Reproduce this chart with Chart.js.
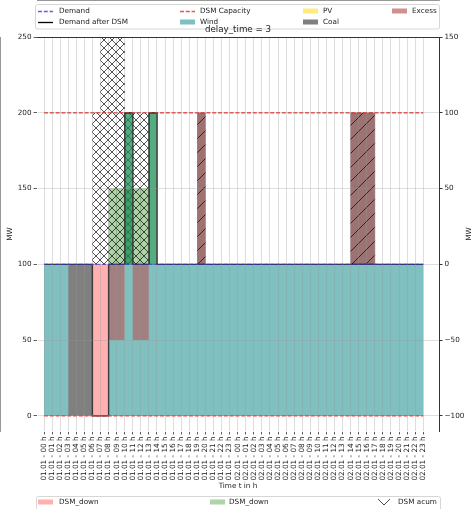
<!DOCTYPE html>
<html>
<head>
<meta charset="utf-8">
<script src="https://cdn.jsdelivr.net/npm/chart.js@4/dist/chart.umd.min.js"></script>
<style>
  html, body { margin: 0; padding: 0; background: #fff; }
  #wrap { width: 474px; height: 509px; }
</style>
</head>
<body>
<div id="wrap"><canvas id="c" width="474" height="509"></canvas></div>
<script>
// ---- hourly time axis (48 h) ----
const hourLabels = [
  '01.01 - 00 h','01.01 - 01 h','01.01 - 02 h','01.01 - 03 h','01.01 - 04 h','01.01 - 05 h',
  '01.01 - 06 h','01.01 - 07 h','01.01 - 08 h','01.01 - 09 h','01.01 - 10 h','01.01 - 11 h',
  '01.01 - 12 h','01.01 - 13 h','01.01 - 14 h','01.01 - 15 h','01.01 - 16 h','01.01 - 17 h',
  '01.01 - 18 h','01.01 - 19 h','01.01 - 20 h','01.01 - 21 h','01.01 - 22 h','01.01 - 23 h',
  '02.01 - 00 h','02.01 - 01 h','02.01 - 02 h','02.01 - 03 h','02.01 - 04 h','02.01 - 05 h',
  '02.01 - 06 h','02.01 - 07 h','02.01 - 08 h','02.01 - 09 h','02.01 - 10 h','02.01 - 11 h',
  '02.01 - 12 h','02.01 - 13 h','02.01 - 14 h','02.01 - 15 h','02.01 - 16 h','02.01 - 17 h',
  '02.01 - 18 h','02.01 - 19 h','02.01 - 20 h','02.01 - 21 h','02.01 - 22 h','02.01 - 23 h'
];

// ---- series in MW, one value per hour ----
const demand = [
  100,100,100,100,100,100,100,100,100,100,100,100,100,100,100,100,100,100,100,100,100,100,100,100,
  100,100,100,100,100,100,100,100,100,100,100,100,100,100,100,100,100,100,100,100,100,100,100,100
];
const demandAfterDSM = [
  100,100,100,100,100,100,  0,  0,100,100,200,100,100,200,100,100,100,100,100,100,100,100,100,100,
  100,100,100,100,100,100,100,100,100,100,100,100,100,100,100,100,100,100,100,100,100,100,100,100
];
const wind = [
  100,100,100,  0,  0,  0,  0,  0, 50, 50,100, 50, 50,100,100,100,100,100,100,100,100,100,100,100,
  100,100,100,100,100,100,100,100,100,100,100,100,100,100,100,100,100,100,100,100,100,100,100,100
];
const coal = [
    0,  0,  0,100,100,100,  0,  0,  0,  0,  0,  0,  0,  0,  0,  0,  0,  0,  0,  0,  0,  0,  0,  0,
    0,  0,  0,  0,  0,  0,  0,  0,  0,  0,  0,  0,  0,  0,  0,  0,  0,  0,  0,  0,  0,  0,  0,  0
];
const pv = [
    0,  0,  0,  0,  0,  0,  0,  0,  0,  0,  0,  0,  0,  0,  0,  0,  0,  0,  0,  0,  0,  0,  0,  0,
    0,  0,  0,  0,  0,  0,  0,  0,  0,  0,  0,  0,  0,  0,  0,  0,  0,  0,  0,  0,  0,  0,  0,  0
];
const excess = [
    0,  0,  0,  0,  0,  0,  0,  0, 50, 50,  0, 50, 50,  0,  0,  0,  0,  0,  0,  0,  0,  0,  0,  0,
    0,  0,  0,  0,  0,  0,  0,  0,  0,  0,  0,  0,  0,  0,  0,  0,  0,  0,  0,  0,  0,  0,  0,  0
];
const excessAboveDemand = [
    0,  0,  0,  0,  0,  0,  0,  0,  0,  0,  0,  0,  0,  0,  0,  0,  0,  0,  0,100,  0,  0,  0,  0,
    0,  0,  0,  0,  0,  0,  0,  0,  0,  0,  0,  0,  0,  0,100,100,100,  0,  0,  0,  0,  0,  0,  0
];
const dsmDown = [
    0,  0,  0,  0,  0,  0,100,100,  0,  0,  0,  0,  0,  0,  0,  0,  0,  0,  0,  0,  0,  0,  0,  0,
    0,  0,  0,  0,  0,  0,  0,  0,  0,  0,  0,  0,  0,  0,  0,  0,  0,  0,  0,  0,  0,  0,  0,  0
];
const dsmUp = [
    0,  0,  0,  0,  0,  0,  0,  0, 50, 50, 50, 50, 50,  0,  0,  0,  0,  0,  0,  0,  0,  0,  0,  0,
    0,  0,  0,  0,  0,  0,  0,  0,  0,  0,  0,  0,  0,  0,  0,  0,  0,  0,  0,  0,  0,  0,  0,  0
];
const dsmUpPeak = [
    0,  0,  0,  0,  0,  0,  0,  0,  0,  0,100,  0,  0,100,  0,  0,  0,  0,  0,  0,  0,  0,  0,  0,
    0,  0,  0,  0,  0,  0,  0,  0,  0,  0,  0,  0,  0,  0,  0,  0,  0,  0,  0,  0,  0,  0,  0,  0
];
const dsmAcum = [
    0,  0,  0,  0,  0,  0,100,200,200,200,100,100,100,  0,  0,  0,  0,  0,  0,  0,  0,  0,  0,  0,
    0,  0,  0,  0,  0,  0,  0,  0,  0,  0,  0,  0,  0,  0,  0,  0,  0,  0,  0,  0,  0,  0,  0,  0
];
const dsmCapacity = [
  100,100,100,100,100,100,100,100,100,100,100,100,100,100,100,100,100,100,100,100,100,100,100,100,
  100,100,100,100,100,100,100,100,100,100,100,100,100,100,100,100,100,100,100,100,100,100,100,100
];

// axis tick values
const leftTicks = [0, 50, 100, 150, 200, 250];
const rightTicks = [-100, -50, 0, 50, 100, 150];

const FONT = 'DejaVu Sans';
Chart.defaults.font.family = FONT;
Chart.defaults.font.size = 7.25;
Chart.defaults.color = '#222';

const canvas = document.getElementById('c');
const cctx = canvas.getContext('2d');

// hatch fills: '/' diagonal lines, optionally crossed ('x')
function makeHatch(period, bg, lineColor, lineWidth, cross) {
  const t = document.createElement('canvas');
  t.width = period; t.height = period;
  const g = t.getContext('2d');
  if (bg) { g.fillStyle = bg; g.fillRect(0, 0, period, period); }
  g.strokeStyle = lineColor; g.lineWidth = lineWidth;
  g.beginPath();
  for (const o of [-period, 0, period]) {
    g.moveTo(o - 1, period + 1); g.lineTo(o + period + 1, -1);
    if (cross) { g.moveTo(o - 1, -1); g.lineTo(o + period + 1, period + 1); }
  }
  g.stroke();
  return cctx.createPattern(t, 'repeat');
}
const crossHatch = makeHatch(8, null, 'rgba(0,0,0,0.75)', 0.9, true);
const excessHatch = makeHatch(14, '#9c7272', 'rgba(35,20,20,0.85)', 1, false);

// helpers turning hourly arrays into chart points
const stepPoints = (vals) => vals.map((v, i) => ({ x: i, y: v }));
const cumulative = (...series) => series[0].map((_, i) => series.reduce((s, a) => s + a[i], 0));
const barsAbove = (vals, base) => vals.map((v, i) => v ? { x: i + 0.5, y: [base[i], base[i] + v] } : null).filter(Boolean);
const barsBelow = (vals, base) => vals.map((v, i) => v ? { x: i + 0.5, y: [base[i] - v, base[i]] } : null).filter(Boolean);

const windTop = wind;
const coalTop = cumulative(wind, coal);
const pvTop = cumulative(wind, coal, pv);
const excessTop = cumulative(wind, coal, pv, excess);

function areaDataset(label, vals, color, order) {
  return {
    type: 'line', label, data: stepPoints(vals), stepped: 'before',
    fill: 'origin', backgroundColor: color, borderColor: 'rgba(0,0,0,0)', borderWidth: 0,
    pointRadius: 0, order, yAxisID: 'y'
  };
}
function barDataset(label, data, color, order) {
  return {
    type: 'bar', label, data, backgroundColor: color, borderWidth: 0,
    grouped: false, barPercentage: 1, categoryPercentage: 1, order, yAxisID: 'y'
  };
}
function lineDataset(label, vals, color, dash, width, order, axis) {
  return {
    type: 'line', label, data: stepPoints(vals), stepped: 'before', fill: false,
    borderColor: color, borderWidth: width, borderDash: dash, pointRadius: 0,
    order, yAxisID: axis
  };
}

// legends, title, axis titles and top spine
const decorations = {
  id: 'decorations',
  afterDraw(chart) {
    const ctx = chart.ctx;
    const a = chart.chartArea;
    ctx.save();
    // top spine
    ctx.strokeStyle = '#333'; ctx.lineWidth = 1;
    ctx.beginPath(); ctx.moveTo(a.left, Math.round(a.top) + 0.5); ctx.lineTo(a.right, Math.round(a.top) + 0.5); ctx.stroke();

    const box = (x, y, w, h) => {
      ctx.beginPath();
      ctx.roundRect(x, y, w, h, 2);
      ctx.fillStyle = 'rgba(255,255,255,0.85)'; ctx.fill();
      ctx.strokeStyle = '#d6d6d6'; ctx.lineWidth = 1; ctx.stroke();
    };
    const text = (s, x, y) => {
      ctx.fillStyle = '#222'; ctx.font = '7.25px "' + FONT + '"';
      ctx.textAlign = 'left'; ctx.textBaseline = 'middle';
      ctx.fillText(s, x, y);
    };
    const lineHandle = (x, y, color, dash) => {
      ctx.strokeStyle = color; ctx.lineWidth = 1.3; ctx.setLineDash(dash);
      ctx.beginPath(); ctx.moveTo(x, y + 0.5); ctx.lineTo(x + 15, y + 0.5); ctx.stroke();
      ctx.setLineDash([]);
    };
    const patch = (x, y, color) => { ctx.fillStyle = color; ctx.fillRect(x, y - 2.5, 15, 5); };

    // upper legend
    box(35.5, 4.5, 404, 24.5);
    const r1 = 11, r2 = 22;
    lineHandle(38, r1, 'rgba(40,40,255,0.75)', [4, 1.8]); text('Demand', 59, r1);
    lineHandle(38, r2, '#000', []); text('Demand after DSM', 59, r2);
    lineHandle(180, r1, 'rgba(255,30,30,0.8)', [4, 1.8]); text('DSM Capacity', 200, r1);
    patch(180, r2, '#80c0c0'); text('Wind', 200, r2);
    patch(303, r1, '#ffeb80'); text('PV', 323, r1);
    patch(303, r2, '#808080'); text('Coal', 323, r2);
    patch(392, r1, '#d09090'); text('Excess', 412, r1);

    // chart title
    ctx.fillStyle = '#222'; ctx.font = '8.7px "' + FONT + '"';
    ctx.textAlign = 'center'; ctx.textBaseline = 'middle';
    ctx.fillText('delay_time = 3', (a.left + a.right) / 2, 30);

    // axis titles
    ctx.font = '7.25px "' + FONT + '"';
    ctx.fillText('Time t in h', (a.left + a.right) / 2, 486);
    const midY = (a.top + a.bottom) / 2;
    for (const x of [10, 469]) {
      ctx.save(); ctx.translate(x, midY); ctx.rotate(-Math.PI / 2);
      ctx.fillText('MW', 0, 0); ctx.restore();
    }

    // lower legend
    box(36.5, 496.5, 404, 20);
    const r3 = 502;
    patch(38, r3, '#ffb1b1'); text('DSM_down', 59, r3);
    patch(210, r3, '#aed4a8'); text('DSM_down', 229, r3);
    ctx.strokeStyle = 'rgba(0,0,0,0.8)'; ctx.lineWidth = 0.9;
    ctx.beginPath(); ctx.moveTo(378, 499); ctx.lineTo(384, 505); ctx.lineTo(390, 499); ctx.stroke();
    text('DSM acum', 398, r3);
    ctx.restore();
  }
};

new Chart(canvas, {
  type: 'line',
  data: {
    datasets: [
      // generation stack (filled steps), drawn from top of stack downwards
      areaDataset('Excess', excessTop, '#a27f80', 23),
      areaDataset('PV', pvTop, '#ffeb80', 22),
      areaDataset('Coal', coalTop, '#808080', 21),
      areaDataset('Wind', windTop, '#80c0c0', 20),
      // DSM and excess bars relative to demand
      barDataset('DSM_down', barsBelow(dsmDown, demand), '#ffb1b1', 15),
      barDataset('DSM_up', barsAbove(dsmUp, demand), 'rgba(40,140,20,0.38)', 14),
      barDataset('DSM acum', barsAbove(dsmAcum, demand), crossHatch, 13),
      barDataset('DSM_up peak', barsAbove(dsmUpPeak, demand), 'rgba(20,140,80,0.72)', 12),
      barDataset('Excess above demand', barsAbove(excessAboveDemand, demand), excessHatch, 11),
      // lines
      lineDataset('Demand after DSM', demandAfterDSM, 'rgba(0,0,0,0.9)', [], 1.3, 6, 'y'),
      lineDataset('Demand', demand, 'rgba(0,0,255,0.6)', [4, 1.8], 1.3, 5, 'y'),
      lineDataset('DSM Capacity', dsmCapacity, 'rgba(255,0,0,0.75)', [4, 1.8], 1.3, 4, 'y2'),
      lineDataset('DSM Capacity (down)', dsmCapacity.map(v => -v), 'rgba(255,0,0,0.75)', [4, 1.8], 1.3, 4, 'y2')
    ]
  },
  options: {
    responsive: false,
    animation: false,
    events: [],
    devicePixelRatio: 1,
    layout: { padding: { top: 37, left: 0, right: 0, bottom: 0 } },
    plugins: { legend: { display: false }, title: { display: false }, tooltip: { enabled: false } },
    scales: {
      x: {
        type: 'linear', min: -0.87, max: 48.95, offset: false,
        afterBuildTicks: (s) => { s.ticks = hourLabels.map((_, i) => ({ value: i })); },
        afterFit: (s) => { s.height = 78; },
        ticks: {
          autoSkip: false, minRotation: 90, maxRotation: 90, padding: 2,
          callback: (v) => hourLabels[v], color: '#222', font: { size: 7.25 }
        },
        grid: { offset: false, color: 'rgba(150,150,150,0.4)', lineWidth: 0.8, z: 1, tickColor: '#333', tickLength: 3.5 },
        border: { display: true, color: '#333', width: 1 }
      },
      y: {
        position: 'left', min: -10, max: 250,
        afterBuildTicks: (s) => { s.ticks = leftTicks.map(v => ({ value: v })); },
        afterFit: (s) => { s.width = 37; },
        ticks: { padding: 2, color: '#222', callback: (v) => String(v) },
        grid: { color: 'rgba(150,150,150,0.4)', lineWidth: 0.8, z: 1, tickColor: '#333', tickLength: 3.5 },
        border: { display: true, color: '#333', width: 1 }
      },
      y2: {
        position: 'right', min: -110, max: 150,
        afterBuildTicks: (s) => { s.ticks = rightTicks.map(v => ({ value: v })); },
        afterFit: (s) => { s.width = 35; },
        ticks: { padding: 2, color: '#222', callback: (v) => (v < 0 ? '\u2212' + Math.abs(v) : String(v)) },
        grid: { drawOnChartArea: false, tickColor: '#333', tickLength: 3.5 },
        border: { display: true, color: '#333', width: 1 }
      }
    }
  },
  plugins: [decorations]
});
</script>
</body>
</html>
